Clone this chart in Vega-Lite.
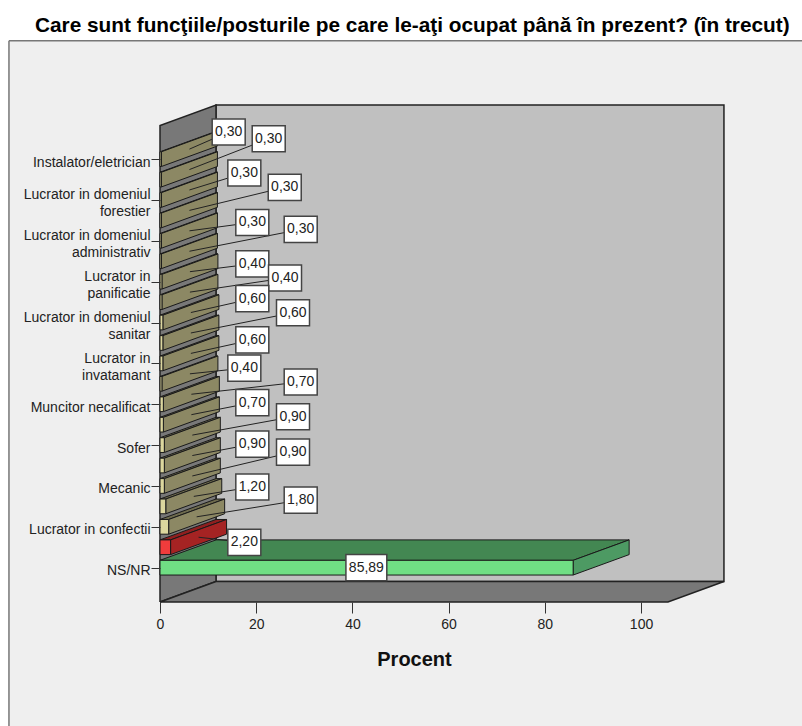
{"$schema":"https://vega.github.io/schema/vega-lite/v6.json","width":564,"height":497,"autosize":{"type":"none"},"padding":{"left":160,"top":105,"right":78,"bottom":124},"background":"#ffffff","view":{"stroke":null},"title":{"text":"Care sunt funcţiile/posturile pe care le-aţi ocupat până în prezent? (în trecut)","anchor":"start","frame":"group","dx":-125,"dy":26,"offset":7,"baseline":"bottom","font":"Liberation Sans","fontSize":20.8,"fontWeight":"bold","color":"#000000"},"datasets":{"panels":[{"face":"cadru"},{"face":"spate"},{"face":"stanga"},{"face":"podea"}],"bars":[{"rank":20,"functie":"Instalator/eletrician","grup":"altele","procent":0.3},{"rank":19,"grup":"altele","procent":0.3},{"rank":18,"functie":"Lucrator in domeniul forestier","grup":"altele","procent":0.3},{"rank":17,"grup":"altele","procent":0.3},{"rank":16,"functie":"Lucrator in domeniul administrativ","grup":"altele","procent":0.3},{"rank":15,"grup":"altele","procent":0.3},{"rank":14,"functie":"Lucrator in panificatie","grup":"altele","procent":0.4},{"rank":13,"grup":"altele","procent":0.4},{"rank":12,"functie":"Lucrator in domeniul sanitar","grup":"altele","procent":0.6},{"rank":11,"grup":"altele","procent":0.6},{"rank":10,"functie":"Lucrator in invatamant","grup":"altele","procent":0.6},{"rank":9,"grup":"altele","procent":0.4},{"rank":8,"functie":"Muncitor necalificat","grup":"altele","procent":0.7},{"rank":7,"grup":"altele","procent":0.7},{"rank":6,"functie":"Sofer","grup":"altele","procent":0.9},{"rank":5,"grup":"altele","procent":0.9},{"rank":4,"functie":"Mecanic","grup":"altele","procent":0.9},{"rank":3,"grup":"altele","procent":1.2},{"rank":2,"functie":"Lucrator in confectii","grup":"altele","procent":1.8},{"rank":1,"grup":"rosu","procent":2.2},{"rank":0,"functie":"NS/NR","grup":"verde","procent":85.89}]},"encoding":{"x":{"field":"px","type":"quantitative","scale":{"domain":[0,117.25],"nice":false,"zero":false},"axis":{"values":[0,20,40,60,80,100],"grid":false,"domain":false,"zindex":1,"tickSize":11,"tickColor":"#333333","labelFont":"Liberation Sans","labelFontSize":14,"labelColor":"#222222","labelPadding":4,"labelFlush":false,"labelBound":false,"title":"Procent","titleFont":"Liberation Sans","titleFontSize":20,"titleFontWeight":"bold","titleColor":"#111111","titleX":254,"titleY":47.5}},"y":{"field":"py","type":"quantitative","scale":{"domain":[-1.68,22.65],"nice":false,"zero":false},"axis":{"values":[0,2,4,6,8,10,12,14,16,18,20],"grid":false,"domain":false,"zindex":1,"tickSize":9,"tickColor":"#333333","labelFont":"Liberation Sans","labelFontSize":14,"labelColor":"#222222","labelPadding":1,"labelOverlap":false,"labelBound":false,"labelFlush":false,"labelLineHeight":16.7,"title":null,"labelOffset":{"condition":{"test":"datum.value>=10&&datum.value<=18","value":-5},"value":3},"labelExpr":"[['NS/NR'],['Lucrator in confectii'],['Mecanic'],['Sofer'],['Muncitor necalificat'],['Lucrator in','invatamant'],['Lucrator in domeniul','sanitar'],['Lucrator in','panificatie'],['Lucrator in domeniul','administrativ'],['Lucrator in domeniul','forestier'],['Instalator/eletrician']][datum.value/2]"}}},"layer":[{"data":{"name":"panels"},"transform":[{"calculate":"{cadru:[[-31.4,25.8],[140,25.8],[140,-8.2],[-31.4,-8.2],[-31.4,25.8]],spate:[[11.64,-0.68],[117.24,-0.68],[117.24,22.65],[11.64,22.65],[11.64,-0.68]],stanga:[[0,-1.68],[11.64,-0.68],[11.64,22.65],[0,21.65],[0,-1.68]],podea:[[0,-1.68],[105.6,-1.68],[117.24,-0.68],[11.64,-0.68],[0,-1.68]]}[datum.face]","as":"v"},{"calculate":"[{k:0,p:datum.v[0]},{k:1,p:datum.v[1]},{k:2,p:datum.v[2]},{k:3,p:datum.v[3]},{k:4,p:datum.v[4]}]","as":"pts"},{"flatten":["pts"]},{"calculate":"datum.pts.p[0]","as":"px"},{"calculate":"datum.pts.p[1]","as":"py"},{"calculate":"datum.pts.k","as":"k"}],"mark":{"type":"line","strokeWidth":1.5,"stroke":"#222222","interpolate":"linear"},"encoding":{"detail":{"field":"face"},"order":{"field":"k","type":"quantitative"},"fill":{"field":"face","type":"nominal","legend":null,"scale":{"domain":["cadru","spate","stanga","podea"],"range":["#efefef","#c0c0c0","#787878","#787878"]}},"stroke":{"field":"face","type":"nominal","legend":null,"scale":{"domain":["cadru","spate","stanga","podea"],"range":["#777777","#222222","#222222","#222222"]}}}},{"data":{"name":"bars"},"transform":[{"calculate":"[{k:0,px:0,py:datum.rank+0.36},{k:1,px:datum.procent,py:datum.rank+0.36},{k:2,px:datum.procent+11.64,py:datum.rank+1.36},{k:3,px:11.64,py:datum.rank+1.36},{k:4,px:0,py:datum.rank+0.36}]","as":"pts"},{"flatten":["pts"]},{"calculate":"datum.pts.px","as":"px"},{"calculate":"datum.pts.py","as":"py"},{"calculate":"datum.pts.k","as":"k"}],"mark":{"type":"line","stroke":"#1a1a1a","strokeWidth":1},"encoding":{"detail":{"field":"rank"},"order":{"field":"k","type":"quantitative"},"fill":{"field":"grup","type":"nominal","legend":null,"scale":{"domain":["verde","rosu","altele"],"range":["#438752","#8f1f1f","#6e6b4e"]}}}},{"data":{"name":"bars"},"transform":[{"calculate":"[{k:0,px:datum.procent,py:datum.rank-0.36},{k:1,px:datum.procent+11.64,py:datum.rank+0.64},{k:2,px:datum.procent+11.64,py:datum.rank+1.36},{k:3,px:datum.procent,py:datum.rank+0.36},{k:4,px:datum.procent,py:datum.rank-0.36}]","as":"pts"},{"flatten":["pts"]},{"calculate":"datum.pts.px","as":"px"},{"calculate":"datum.pts.py","as":"py"},{"calculate":"datum.pts.k","as":"k"}],"mark":{"type":"line","stroke":"#1a1a1a","strokeWidth":1},"encoding":{"detail":{"field":"rank"},"order":{"field":"k","type":"quantitative"},"fill":{"field":"grup","type":"nominal","legend":null,"scale":{"domain":["verde","rosu","altele"],"range":["#4d9a63","#a52323","#8c8864"]}}}},{"data":{"name":"bars"},"transform":[{"calculate":"[{k:0,px:0,py:datum.rank-0.36},{k:1,px:datum.procent,py:datum.rank-0.36},{k:2,px:datum.procent,py:datum.rank+0.36},{k:3,px:0,py:datum.rank+0.36},{k:4,px:0,py:datum.rank-0.36}]","as":"pts"},{"flatten":["pts"]},{"calculate":"datum.pts.px","as":"px"},{"calculate":"datum.pts.py","as":"py"},{"calculate":"datum.pts.k","as":"k"}],"mark":{"type":"line","stroke":"#1a1a1a","strokeWidth":1},"encoding":{"detail":{"field":"rank"},"order":{"field":"k","type":"quantitative"},"fill":{"field":"grup","type":"nominal","legend":null,"scale":{"domain":["verde","rosu","altele"],"range":["#70de84","#f03c3c","#dcd79e"]}}}},{"data":{"name":"bars"},"transform":[{"filter":"datum.rank>0"},{"calculate":"datum.procent+5.82","as":"px"},{"calculate":"datum.rank+0.49","as":"py"},{"calculate":"[42.9,17.53,29.25,19.19,27.65,19.19,27.65,19.19,29.25,17.53,19.19,27.65,19.19,25.99,19.19,29.25,19.19,25.93,17.53,22.6,14.28][datum.rank]","as":"lx"},{"calculate":"[0,1.24,3.31,3.95,5.66,6.05,7.39,8.08,9.09,9.77,11.15,12.48,13.17,14.18,14.87,16.56,16.9,18.62,19.32,21,21.33][datum.rank]","as":"ly"}],"mark":{"type":"rule","stroke":"#222222","strokeWidth":1},"encoding":{"x2":{"field":"lx"},"y2":{"field":"ly"}}},{"data":{"name":"bars"},"transform":[{"calculate":"[42.9,17.53,29.25,19.19,27.65,19.19,27.65,19.19,29.25,17.53,19.19,27.65,19.19,25.99,19.19,29.25,19.19,25.93,17.53,22.6,14.28][datum.rank]","as":"lx"},{"calculate":"[0,1.24,3.31,3.95,5.66,6.05,7.39,8.08,9.09,9.77,11.15,12.48,13.17,14.18,14.87,16.56,16.9,18.62,19.32,21,21.33][datum.rank]","as":"ly"},{"calculate":"datum.rank==0?4.25:3.43","as":"w"},{"calculate":"datum.lx-datum.w","as":"px"},{"calculate":"datum.lx+datum.w","as":"px2"},{"calculate":"datum.ly-0.64","as":"py"},{"calculate":"datum.ly+0.64","as":"py2"}],"mark":{"type":"rect","fill":"#ffffff","stroke":"#444444","strokeWidth":1.5},"encoding":{"x2":{"field":"px2"},"y2":{"field":"py2"}}},{"data":{"name":"bars"},"transform":[{"calculate":"[42.9,17.53,29.25,19.19,27.65,19.19,27.65,19.19,29.25,17.53,19.19,27.65,19.19,25.99,19.19,29.25,19.19,25.93,17.53,22.6,14.28][datum.rank]","as":"px"},{"calculate":"[0,1.24,3.31,3.95,5.66,6.05,7.39,8.08,9.09,9.77,11.15,12.48,13.17,14.18,14.87,16.56,16.9,18.62,19.32,21,21.33][datum.rank]","as":"py"},{"calculate":"replace(format(datum.procent,'.2f'),'.',',')","as":"eticheta"}],"mark":{"type":"text","font":"Liberation Sans","fontSize":14,"color":"#222222","baseline":"middle","align":"center"},"encoding":{"text":{"field":"eticheta"}}}],"resolve":{"scale":{"fill":"independent","stroke":"independent"}}}
